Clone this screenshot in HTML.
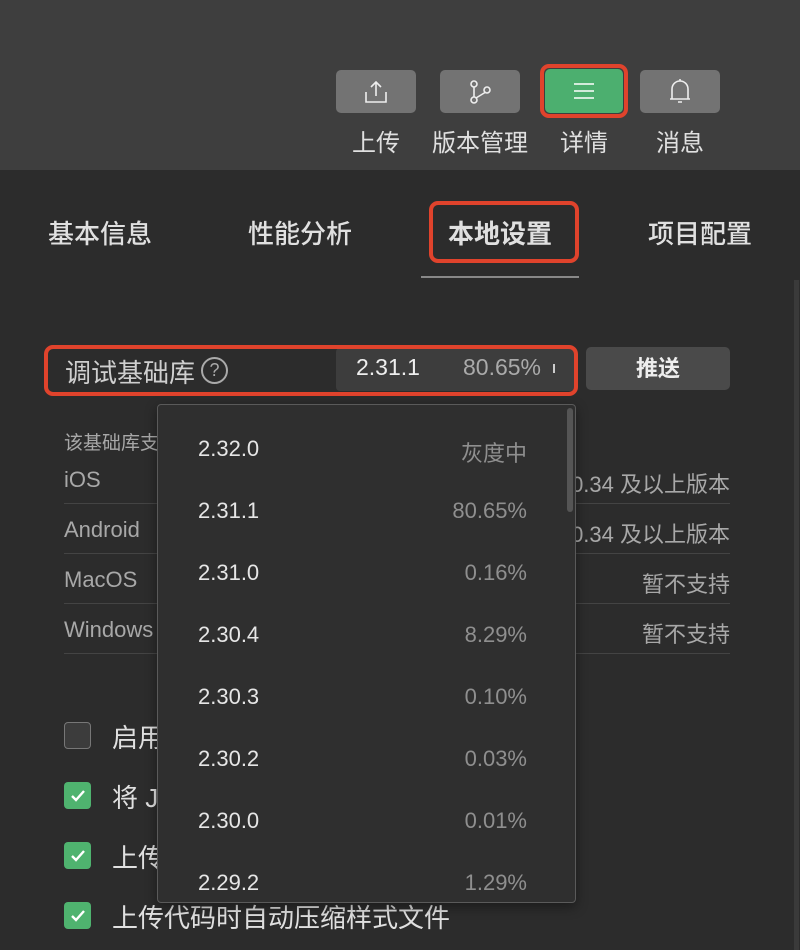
<!DOCTYPE html>
<html><head><meta charset="utf-8">
<style>
*{margin:0;padding:0;box-sizing:border-box}
body{width:800px;height:950px;overflow:hidden;background:#2c2c2c;font-family:"Liberation Sans","Noto Sans CJK SC",sans-serif;position:relative;color:#ddd}
.a{position:absolute}
.tb{background:#737373;border-radius:5px;width:80px;height:43px;display:flex;align-items:center;justify-content:center}
.tl{font-size:24px;color:#e0e0e0;width:120px;text-align:center;top:123px}
.tab{top:214px;font-size:26px;color:#e0e0e0;font-weight:500}
.row{left:64px;font-size:22px;color:#a8a8a8}
.rr{right:70px;font-size:22px;color:#a8a8a8}
.ln{left:64px;width:666px;height:1px;background:#444}
.it{left:198px;font-size:22px;color:#e6e6e6}
.ip{right:273px;font-size:22px;color:#8f8f8f;text-align:right}
.cb{left:64px;width:27px;height:27px;border-radius:4px;background:#4fb36f;display:flex;align-items:center;justify-content:center}
.ct{left:112px;font-size:26px;color:#e0e0e0}
</style></head><body>
<div class="a" style="left:0;top:0;width:800px;height:170px;background:#3e3e3e"></div>
<div class="a tb" style="left:336px;top:70px"><svg width="26" height="24" viewBox="0 0 26 24" fill="none" stroke="#eee" stroke-width="1.6"><path d="M3 12v10h20V12M13 16V2M8 7l5-5 5 5"/></svg></div>
<div class="a tb" style="left:440px;top:70px"><svg width="26" height="26" viewBox="0 0 26 26" fill="none" stroke="#eee" stroke-width="1.6"><circle cx="7" cy="5" r="3"/><circle cx="7" cy="21" r="3"/><circle cx="20" cy="11" r="3"/><path d="M7 8v10M18 13.5L9 19"/></svg></div>
<div class="a" style="left:540px;top:64px;width:88px;height:54px;border:4px solid #e0432c;border-radius:9px"></div>
<div class="a tb" style="left:545px;top:69px;width:78px;height:44px;background:#4caf6f"><svg width="22" height="18" viewBox="0 0 22 18" stroke="#fff" stroke-width="1.6"><path d="M1 2h20M1 9h20M1 16h20"/></svg></div>
<div class="a tb" style="left:640px;top:70px"><svg width="24" height="28" viewBox="0 0 24 28" fill="none" stroke="#eee" stroke-width="1.6"><path d="M4 21V11a8 8 0 0 1 16 0v10M2 21h20M12 1v2M10 24h4"/></svg></div>
<div class="a tl" style="left:316px">上传</div>
<div class="a tl" style="left:420px">版本管理</div>
<div class="a tl" style="left:524px">详情</div>
<div class="a tl" style="left:620px">消息</div>

<div class="a tab" style="left:48px">基本信息</div>
<div class="a tab" style="left:248px">性能分析</div>
<div class="a tab" style="left:448px;font-weight:bold">本地设置</div>
<div class="a tab" style="left:648px">项目配置</div>
<div class="a" style="left:429px;top:201px;width:150px;height:62px;border:4px solid #e0432c;border-radius:9px"></div>
<div class="a" style="left:421px;top:276px;width:158px;height:2px;background:#888"></div>
<div class="a" style="left:794px;top:280px;width:5px;height:670px;background:#3a3a3a"></div>

<div class="a" style="left:336px;top:348px;width:238px;height:43px;background:#3d3d3d;border-radius:4px"></div>
<div class="a" style="left:44px;top:345px;width:534px;height:51px;border:4px solid #e0432c;border-radius:9px"></div>
<div class="a" style="left:65px;top:353px;font-size:26px;color:#cfcfcf">调试基础库</div>
<div class="a" style="left:201px;top:357px;width:27px;height:27px;border:2px solid #aaa;border-radius:50%;color:#aaa;font-size:18px;text-align:center;line-height:23px">?</div>
<div class="a" style="left:356px;top:354px;font-size:23px;color:#eee">2.31.1</div>
<div class="a" style="left:463px;top:354px;font-size:23px;color:#aaa">80.65%</div>
<div class="a" style="left:553px;top:364px;width:2px;height:9px;background:#ccc"></div>
<div class="a" style="left:586px;top:347px;width:144px;height:43px;background:#4a4a4a;border-radius:5px;text-align:center;line-height:43px;font-size:22px;font-weight:bold;color:#eee">推送</div>

<div class="a row" style="top:428px;font-size:19px">该基础库支持</div>
<div class="a row" style="top:467px">iOS</div>
<div class="a rr" style="top:467px">8.0.34 及以上版本</div>
<div class="a ln" style="top:503px"></div>
<div class="a row" style="top:517px">Android</div>
<div class="a rr" style="top:517px">8.0.34 及以上版本</div>
<div class="a ln" style="top:553px"></div>
<div class="a row" style="top:567px">MacOS</div>
<div class="a rr" style="top:567px">暂不支持</div>
<div class="a ln" style="top:603px"></div>
<div class="a row" style="top:617px">Windows</div>
<div class="a rr" style="top:617px">暂不支持</div>
<div class="a ln" style="top:653px"></div>

<div class="a cb" style="top:722px;background:#3c3c3c;border:1px solid #777"></div>
<div class="a ct" style="top:718px">启用</div>
<div class="a cb" style="top:782px"><svg width="16" height="14" viewBox="0 0 16 14" fill="none" stroke="#fff" stroke-width="2.4"><path d="M2 7l4 4 8-9"/></svg></div>
<div class="a ct" style="top:778px">将 JS</div>
<div class="a cb" style="top:842px"><svg width="16" height="14" viewBox="0 0 16 14" fill="none" stroke="#fff" stroke-width="2.4"><path d="M2 7l4 4 8-9"/></svg></div>
<div class="a ct" style="top:838px">上传</div>
<div class="a cb" style="top:902px"><svg width="16" height="14" viewBox="0 0 16 14" fill="none" stroke="#fff" stroke-width="2.4"><path d="M2 7l4 4 8-9"/></svg></div>
<div class="a ct" style="top:898px">上传代码时自动压缩样式文件</div>

<div class="a" style="left:157px;top:404px;width:419px;height:499px;background:#2f2f2f;border:1px solid #5a5a5a;border-radius:4px;box-shadow:0 4px 12px rgba(0,0,0,.4)"></div>
<div class="a" style="left:567px;top:408px;width:6px;height:104px;background:#555;border-radius:3px"></div>
<div class="a it" style="top:436px">2.32.0</div><div class="a ip" style="top:436px">灰度中</div>
<div class="a it" style="top:498px">2.31.1</div><div class="a ip" style="top:498px">80.65%</div>
<div class="a it" style="top:560px">2.31.0</div><div class="a ip" style="top:560px">0.16%</div>
<div class="a it" style="top:622px">2.30.4</div><div class="a ip" style="top:622px">8.29%</div>
<div class="a it" style="top:684px">2.30.3</div><div class="a ip" style="top:684px">0.10%</div>
<div class="a it" style="top:746px">2.30.2</div><div class="a ip" style="top:746px">0.03%</div>
<div class="a it" style="top:808px">2.30.0</div><div class="a ip" style="top:808px">0.01%</div>
<div class="a it" style="top:870px">2.29.2</div><div class="a ip" style="top:870px">1.29%</div>
</body></html>
